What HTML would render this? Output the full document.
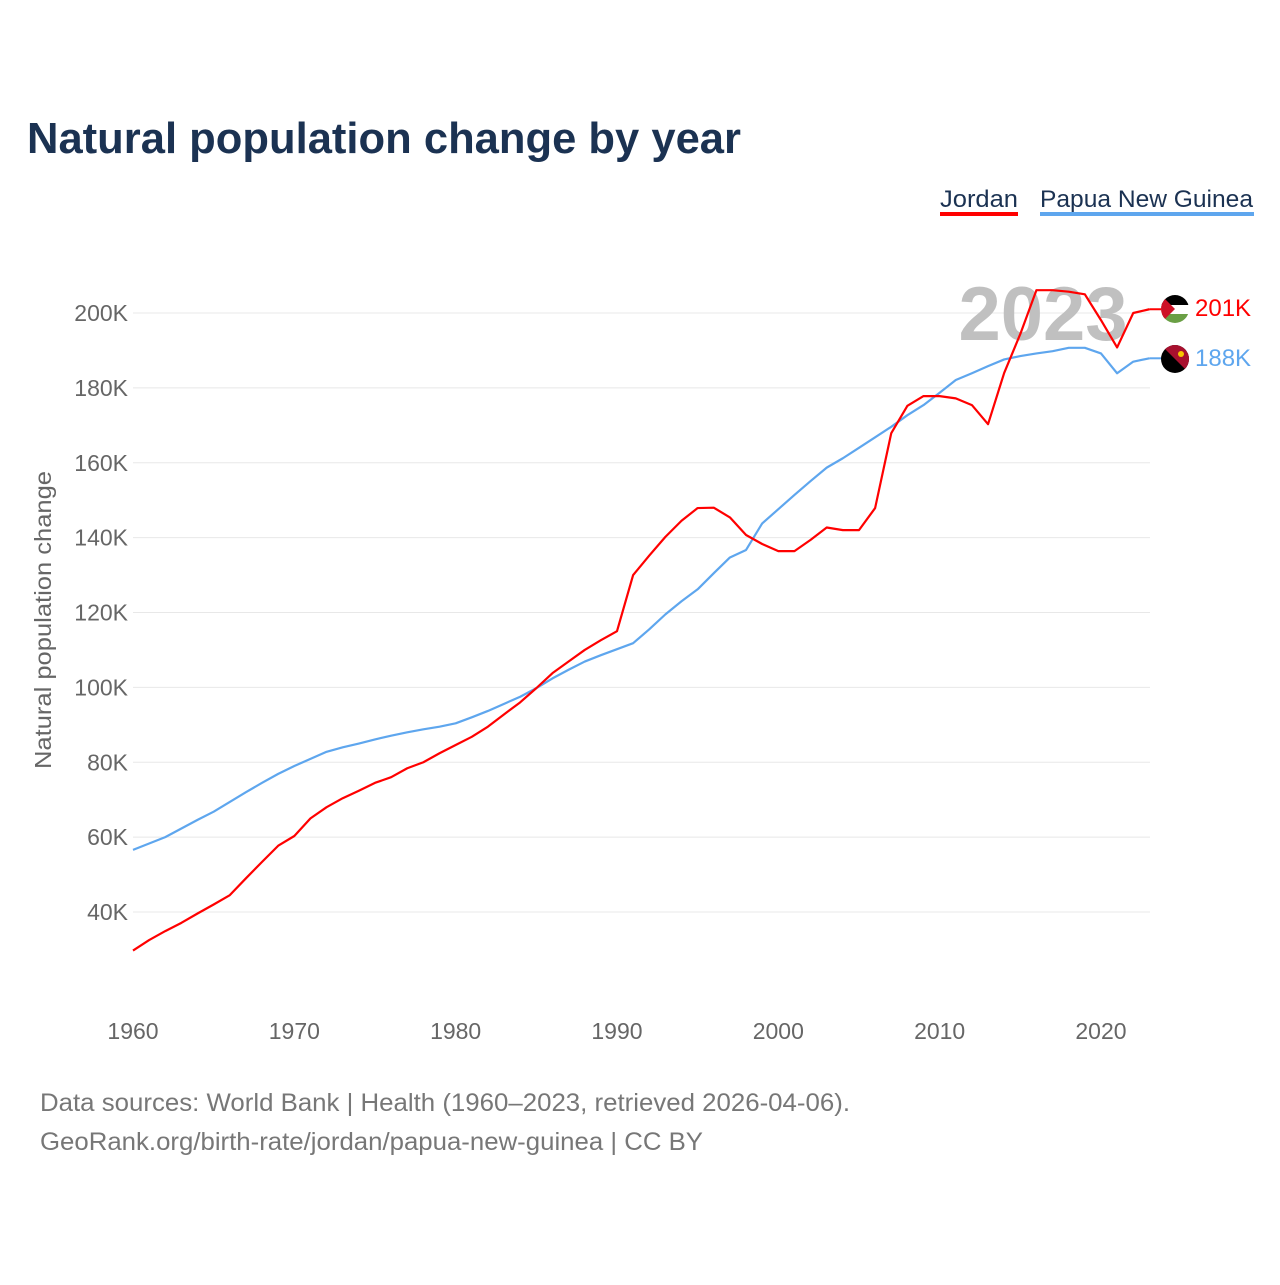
<!DOCTYPE html>
<html><head><meta charset="utf-8"><style>
body{margin:0;background:#fff;width:1280px;height:1280px;overflow:hidden;font-family:"Liberation Sans",sans-serif}
</style></head><body>
<svg id="chart" width="1280" height="1280" xmlns="http://www.w3.org/2000/svg">
<text x="27" y="153" font-size="44" font-weight="bold" fill="#1b3252" textLength="714" lengthAdjust="spacingAndGlyphs">Natural population change by year</text>
<g><text x="940" y="207" font-size="24" fill="#1b3252" textLength="78" lengthAdjust="spacingAndGlyphs">Jordan</text><rect x="940" y="212" width="78" height="4" fill="#ff0000"/></g>
<g><text x="1040" y="207" font-size="24" fill="#1b3252" textLength="213" lengthAdjust="spacingAndGlyphs">Papua New Guinea</text><rect x="1040" y="212" width="214" height="4" fill="#5ea6ee"/></g>
<g id="grid"></g><g id="yticks"></g><g id="xticks"></g>
<text x="1043" y="340" font-size="76" font-weight="bold" fill="#c0c0c0" text-anchor="middle">2023</text>
<g id="lines"></g>
<text transform="translate(51,620) rotate(-90)" font-size="23" fill="#666" text-anchor="middle" textLength="298" lengthAdjust="spacingAndGlyphs">Natural population change</text>
<g><clipPath id="c1"><circle cx="1175" cy="309" r="14"/></clipPath><g clip-path="url(#c1)"><rect x="1161" y="295" width="28" height="10" fill="#000"/><rect x="1161" y="305" width="28" height="9" fill="#fff"/><rect x="1161" y="314" width="28" height="10" fill="#6a9f45"/><polygon points="1161,295 1175,309 1161,323" fill="#ce1126"/></g></g>
<g><clipPath id="c2"><circle cx="1175" cy="359" r="14"/></clipPath><g clip-path="url(#c2)"><rect x="1161" y="345" width="28" height="28" fill="#000"/><polygon points="1161,345 1189,345 1189,373" fill="#a8102e"/><circle cx="1181" cy="354" r="3" fill="#f7c600"/></g></g>
<text x="1195" y="316" font-size="24" fill="#ff0000">201K</text>
<text x="1195" y="366" font-size="24" fill="#5ea6ee">188K</text>
<text x="40" y="1111" font-size="25" fill="#777" textLength="810" lengthAdjust="spacingAndGlyphs">Data sources: World Bank | Health (1960–2023, retrieved 2026-04-06).</text>
<text x="40" y="1150" font-size="25" fill="#777" textLength="663" lengthAdjust="spacingAndGlyphs">GeoRank.org/birth-rate/jordan/papua-new-guinea | CC BY</text>
</svg>
<script>
const years=[];for(let y=1960;y<=2023;y++)years.push(y);
const jordan=[29.7,32.5,34.9,37.1,39.6,42,44.5,49,53.4,57.7,60.3,65,68,70.4,72.4,74.5,76,78.4,80,82.4,84.6,86.8,89.5,92.8,96,99.8,103.8,106.9,110,112.6,115,130,135.2,140.2,144.5,147.9,148,145.4,140.7,138.3,136.4,136.4,139.4,142.7,142,142,147.9,167.9,175.2,177.8,177.8,177.2,175.4,170.3,184,194.4,206.1,206.1,205.7,205,198.1,190.8,200,201];
const png=[56.6,58.3,60,62.3,64.6,66.8,69.4,72,74.5,76.9,79,80.9,82.8,84,85,86.1,87.1,88,88.8,89.5,90.4,92,93.7,95.6,97.5,99.8,102.4,104.7,106.9,108.6,110.2,111.8,115.5,119.5,123,126.2,130.5,134.7,136.7,143.8,147.6,151.4,155.1,158.7,161.2,164,166.8,169.6,172.7,175.4,178.7,182.1,183.9,185.8,187.6,188.5,189.2,189.8,190.7,190.7,189.2,183.9,187,187.9];
const yTicks=[40,60,80,100,120,140,160,180,200];
const xTicks=[1960,1970,1980,1990,2000,2010,2020];
const NS="http://www.w3.org/2000/svg";
const X=y=>133+(y-1960)*16.133;
const Y=v=>912-(v-40)*74.875/20;
function mk(tag,attrs,parent){const e=document.createElementNS(NS,tag);for(const k in attrs)e.setAttribute(k,attrs[k]);document.getElementById(parent).appendChild(e);return e;}
yTicks.forEach(t=>{
 const l=mk('line',{x1:133,x2:1150,y1:Y(t),y2:Y(t),stroke:'#e8e8e8','stroke-width':1},'grid');
 
 
 const tx=mk('text',{x:128,y:Y(t)+8,'font-size':23,fill:'#666','text-anchor':'end'},'yticks');
 tx.textContent=t+'K';
 
 
});
xTicks.forEach(t=>{
 const tx=mk('text',{x:X(t),y:1039,'font-size':23,fill:'#666','text-anchor':'middle'},'xticks');
 tx.textContent=t;
 
 
});
function line(data,color,name){
 const p=mk('polyline',{points:data.map((v,i)=>X(years[i])+','+Y(v)).join(' '),fill:'none',stroke:color,'stroke-width':2.2,'stroke-linejoin':'round'},'lines');
 
 
 const n=data.length-1;
 const c=mk('line',{x1:X(years[n]),y1:Y(data[n]),x2:1162,y2:Y(data[n]),stroke:color,'stroke-width':2},'lines');
 
 
}
line(png,'#5ea6ee','png-line');
line(jordan,'#ff0000','jordan-line');
</script>
</body></html>
